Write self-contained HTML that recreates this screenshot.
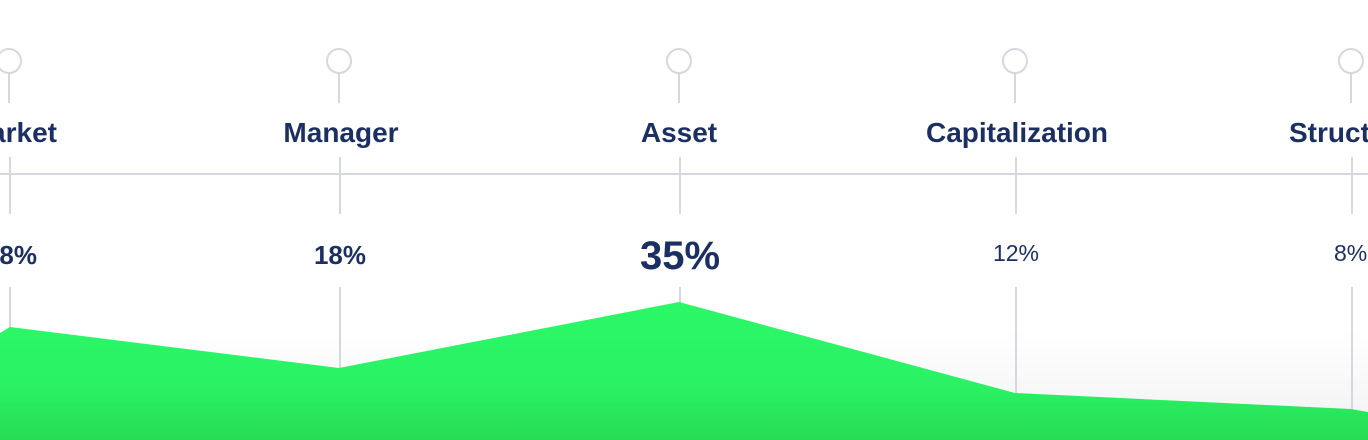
<!DOCTYPE html>
<html><head><meta charset="utf-8"><style>
html,body{margin:0;padding:0;width:1368px;height:440px;overflow:hidden;background:#fff}
svg{display:block}
text{font-family:"Liberation Sans",Arial,sans-serif;fill:#1b2f63}
</style></head><body>
<svg width="1368" height="440" viewBox="0 0 1368 440" xmlns="http://www.w3.org/2000/svg">
<defs>
<linearGradient id="bg" x1="0" y1="0" x2="0" y2="1">
<stop offset="0.75" stop-color="#ffffff"/><stop offset="1" stop-color="#f1f1f3"/>
</linearGradient>
<linearGradient id="gr" x1="0" y1="0" x2="0" y2="1">
<stop offset="0" stop-color="#2bf867"/><stop offset="0.6" stop-color="#2af264"/><stop offset="1" stop-color="#27dc55"/>
</linearGradient>
</defs>
<rect width="1368" height="440" fill="url(#bg)"/>
<g stroke="#d5d8df" stroke-width="2" fill="none">
<line x1="0" y1="174" x2="1368" y2="174"/>
<circle cx="9" cy="61" r="12"/><line x1="9" y1="73" x2="9" y2="103"/>
<circle cx="339" cy="61" r="12"/><line x1="339" y1="73" x2="339" y2="103"/>
<circle cx="679" cy="61" r="12"/><line x1="679" y1="73" x2="679" y2="103"/>
<circle cx="1015" cy="61" r="12"/><line x1="1015" y1="73" x2="1015" y2="103"/>
<circle cx="1351" cy="61" r="12"/><line x1="1351" y1="73" x2="1351" y2="103"/>
<line x1="10" y1="157" x2="10" y2="214"/><line x1="340" y1="157" x2="340" y2="214"/><line x1="680" y1="157" x2="680" y2="214"/><line x1="1016" y1="157" x2="1016" y2="214"/><line x1="1352" y1="157" x2="1352" y2="214"/>
<line x1="10" y1="287" x2="10" y2="330"/><line x1="340" y1="287" x2="340" y2="368"/><line x1="680" y1="287" x2="680" y2="303"/><line x1="1016" y1="287" x2="1016" y2="394"/><line x1="1352" y1="287" x2="1352" y2="410"/>
</g>
<polygon points="0,333 10,327 339,368 679,302 1015,393 1351,409 1368,412 1368,440 0,440" fill="url(#gr)"/>
<g font-weight="bold" font-size="28">
<text x="57" y="142" text-anchor="end">Market</text>
<text x="341" y="142" text-anchor="middle">Manager</text>
<text x="679" y="142" text-anchor="middle">Asset</text>
<text x="1017" y="142" text-anchor="middle">Capitalization</text>
<text x="1289" y="142">Structure</text>
</g>
<text x="37" y="264" font-size="26" font-weight="bold" text-anchor="end">18%</text>
<text x="340" y="264" font-size="26" font-weight="bold" text-anchor="middle">18%</text>
<text x="680" y="269" font-size="40" font-weight="bold" text-anchor="middle">35%</text>
<text x="1016" y="261" font-size="23" text-anchor="middle">12%</text>
<text x="1334" y="261" font-size="23">8%</text>
</svg>
</body></html>
